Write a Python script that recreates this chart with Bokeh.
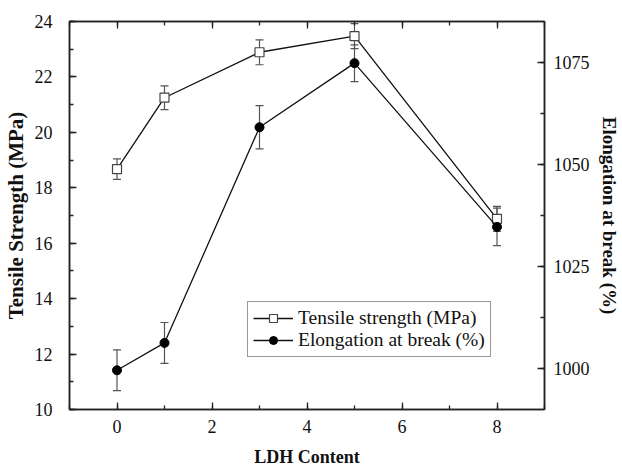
from bokeh.plotting import figure
from bokeh.models import (Range1d, LinearAxis, SingleIntervalTicker, Whisker, TeeHead,
                          ColumnDataSource, Legend, LegendItem, CustomJSTickFormatter)
from bokeh.embed import file_html
from bokeh.resources import INLINE

# ---- data ----
ldh = [0, 1, 3, 5, 8]
tensile = [18.67, 21.25, 22.89, 23.47, 16.88]
tensile_err = [0.37, 0.43, 0.45, 0.45, 0.45]
elong = [999.6, 1006.3, 1059.1, 1074.8, 1034.7]
elong_err = [5.0, 5.0, 5.3, 4.5, 4.6]

x_label = "LDH Content"
y_left_label = "Tensile Strength (MPa)"
y_right_label = "Elongation at break (%)"
series_names = ["Tensile strength (MPa)", "Elongation at break (%)"]

FONT = "'Liberation Serif', 'Times New Roman', serif"

ts = ColumnDataSource(dict(x=ldh, y=tensile,
                           lo=[v - e for v, e in zip(tensile, tensile_err)],
                           hi=[v + e for v, e in zip(tensile, tensile_err)]))
es = ColumnDataSource(dict(x=ldh, y=elong,
                           lo=[v - e for v, e in zip(elong, elong_err)],
                           hi=[v + e for v, e in zip(elong, elong_err)]))

p = figure(width=622, height=469, x_range=Range1d(-1, 9), y_range=Range1d(10, 24),
           output_backend="svg", toolbar_location=None,
           min_border_left=69, min_border_right=76, min_border_top=21, min_border_bottom=59)
p.extra_y_ranges = {"right": Range1d(990, 1085)}

p.xgrid.visible = False
p.ygrid.visible = False
p.outline_line_color = "#222222"
p.outline_line_width = 1.5
p.background_fill_color = "white"
p.border_fill_color = "white"

def style_axis(ax, interval, minor, label_standoff, axis_standoff, label_size):
    ax.ticker = SingleIntervalTicker(interval=interval, num_minor_ticks=minor)
    ax.major_tick_in = 7
    ax.major_tick_out = 0
    ax.minor_tick_in = 4
    ax.minor_tick_out = 0
    ax.axis_line_color = "#222222"
    ax.axis_line_width = 1.5
    ax.major_tick_line_color = "#222222"
    ax.major_tick_line_width = 1.3
    ax.minor_tick_line_color = "#222222"
    ax.minor_tick_line_width = 1.3
    ax.major_label_text_font = FONT
    ax.major_label_text_font_size = "18px"
    ax.major_label_text_color = "#111111"
    ax.major_label_standoff = label_standoff
    ax.axis_label_text_font = FONT
    ax.axis_label_text_font_style = "bold"
    ax.axis_label_text_font_size = label_size
    ax.axis_label_text_color = "#111111"
    ax.axis_label_standoff = axis_standoff

# bottom
xa = p.xaxis[0]
style_axis(xa, 2, 2, 10, 11, "18px")
xa.axis_label = x_label
# left
ya = p.yaxis[0]
style_axis(ya, 2, 2, 17, 4, "21px")
ya.axis_label = y_left_label
# right
ra = LinearAxis(y_range_name="right")
style_axis(ra, 25, 2, 9, 6, "19px")
ra.axis_label = y_right_label
p.add_layout(ra, "right")
# top (ticks only)
ta = LinearAxis()
style_axis(ta, 2, 2, 0, 0, "18px")
ta.formatter = CustomJSTickFormatter(code="return ''")
p.add_layout(ta, "above")

# error bars
GREY = "#555555"
wt = Whisker(source=ts, base="x", upper="hi", lower="lo", line_color=GREY, line_width=1.2,
             upper_head=TeeHead(size=8, line_color=GREY, line_width=1.2),
             lower_head=TeeHead(size=8, line_color=GREY, line_width=1.2))
we = Whisker(source=es, base="x", upper="hi", lower="lo", line_color=GREY, line_width=1.2,
             y_range_name="right",
             upper_head=TeeHead(size=8, line_color=GREY, line_width=1.2),
             lower_head=TeeHead(size=8, line_color=GREY, line_width=1.2))
p.add_layout(wt)
p.add_layout(we)

l1 = p.line("x", "y", source=ts, line_color="#111111", line_width=1.3)
m1 = p.scatter("x", "y", source=ts, marker="square", size=9, fill_color="white",
               line_color="#444444", line_width=1.2)
l2 = p.line("x", "y", source=es, line_color="#111111", line_width=1.3, y_range_name="right")
m2 = p.scatter("x", "y", source=es, marker="circle", size=9, fill_color="black",
               line_color="black", y_range_name="right")

legend = Legend(items=[LegendItem(label=series_names[0], renderers=[l1, m1]),
                       LegendItem(label=series_names[1], renderers=[l2, m2])],
                location=(178, 52))
legend.label_text_font = FONT
legend.label_text_font_size = "19.5px"
legend.label_text_color = "#111111"
legend.border_line_color = "#333333"
legend.border_line_width = 1
legend.background_fill_alpha = 1
legend.glyph_width = 40
legend.glyph_height = 20
legend.label_height = 20
legend.label_standoff = 5
legend.padding = 5
legend.spacing = 0
legend.margin = 0
p.add_layout(legend, "center")

open("out.html", "w").write(file_html(p, INLINE))
